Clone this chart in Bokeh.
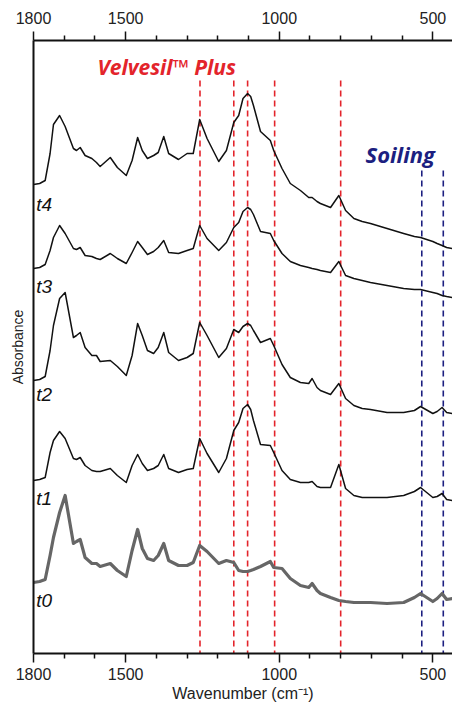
from bokeh.plotting import figure
from bokeh.models import Range1d, LinearAxis, FixedTicker
from bokeh.embed import file_html
from bokeh.resources import INLINE
from bokeh.core.properties import value

# ---------------- data ----------------
wavenumber = [1800, 1780, 1762, 1746, 1735, 1715, 1697, 1670, 1660, 1648,
              1632, 1610, 1595, 1583, 1550, 1527, 1498, 1479, 1461, 1446,
              1429, 1409, 1394, 1376, 1360, 1328, 1300, 1280, 1259, 1235,
              1197, 1172, 1148, 1132, 1118, 1103, 1093, 1084, 1061, 1029, 1018, 991,
              964, 931, 904, 893, 877, 866, 833, 806, 784, 757,
              730, 703, 649, 595, 560, 540, 500, 486, 470, 455, 437]

t4 = [4.69, 4.70, 4.73, 5.00, 5.29, 5.38, 5.27, 5.05, 5.03, 5.06,
      4.98, 4.95, 4.91, 4.87, 4.96, 4.86, 4.78, 4.93, 5.16, 5.03,
      4.95, 4.98, 5.01, 5.17, 5.00, 4.94, 5.00, 5.00, 5.34, 5.15,
      4.92, 5.03, 5.31, 5.38, 5.55, 5.60, 5.57, 5.48, 5.22, 5.13, 5.03, 4.85,
      4.70, 4.63, 4.56, 4.56, 4.52, 4.50, 4.46, 4.58, 4.43, 4.35,
      4.32, 4.30, 4.25, 4.20, 4.17, 4.16, 4.12, 4.10, 4.08, 4.06, 4.05]

t3 = [3.85, 3.86, 3.89, 4.03, 4.16, 4.28, 4.20, 4.05, 4.04, 4.06,
      3.98, 3.97, 3.95, 3.94, 4.00, 3.95, 3.90, 4.01, 4.12, 4.06,
      3.99, 4.02, 4.06, 4.13, 4.01, 4.00, 4.03, 4.05, 4.28, 4.15,
      4.03, 4.11, 4.26, 4.31, 4.42, 4.46, 4.44, 4.39, 4.22, 4.20, 4.13, 4.00,
      3.92, 3.88, 3.86, 3.85, 3.84, 3.83, 3.81, 3.92, 3.78, 3.75,
      3.73, 3.71, 3.68, 3.65, 3.64, 3.64, 3.61, 3.60, 3.58, 3.57, 3.56]

t2 = [2.73, 2.74, 2.77, 3.03, 3.28, 3.55, 3.61, 3.16, 3.18, 3.21,
      3.06, 2.98, 2.98, 2.92, 2.93, 2.87, 2.78, 2.98, 3.30, 3.18,
      3.03, 3.00, 3.06, 3.21, 3.01, 2.93, 2.96, 3.00, 3.31, 3.18,
      2.96, 3.05, 3.24, 3.21, 3.27, 3.30, 3.28, 3.23, 3.11, 3.15, 3.08, 2.89,
      2.76, 2.71, 2.70, 2.75, 2.66, 2.63, 2.59, 2.70, 2.55, 2.48,
      2.45, 2.44, 2.41, 2.41, 2.43, 2.47, 2.40, 2.42, 2.46, 2.41, 2.40]

t1 = [1.73, 1.74, 1.76, 2.01, 2.13, 2.22, 2.15, 1.95, 1.94, 1.96,
      1.88, 1.83, 1.82, 1.82, 1.85, 1.78, 1.71, 1.88, 1.99, 1.90,
      1.83, 1.85, 1.88, 1.99, 1.85, 1.81, 1.84, 1.85, 2.15, 2.00,
      1.81, 1.95, 2.23, 2.31, 2.45, 2.49, 2.44, 2.33, 2.09, 2.08, 2.01, 1.83,
      1.74, 1.71, 1.71, 1.72, 1.67, 1.66, 1.66, 1.89, 1.65, 1.58,
      1.56, 1.56, 1.56, 1.58, 1.62, 1.66, 1.56, 1.57, 1.60, 1.54, 1.53]

t0 = [0.71, 0.72, 0.74, 0.98, 1.16, 1.41, 1.58, 1.10, 1.12, 1.14,
      0.96, 0.90, 0.90, 0.87, 0.90, 0.83, 0.77, 1.03, 1.24, 1.05,
      0.95, 0.93, 0.98, 1.10, 0.93, 0.88, 0.88, 0.91, 1.08, 1.02,
      0.90, 0.93, 0.91, 0.83, 0.82, 0.82, 0.83, 0.84, 0.87, 0.92, 0.86, 0.85,
      0.75, 0.68, 0.66, 0.70, 0.63, 0.60, 0.56, 0.53, 0.52, 0.51,
      0.51, 0.51, 0.50, 0.51, 0.56, 0.60, 0.52, 0.55, 0.60, 0.54, 0.55]

series_names = ["t4", "t3", "t2", "t1", "t0"]
velvesil_peaks = [1258, 1148, 1103, 1015, 800]
soiling_peaks = [536, 466]
major_ticks = [1800, 1500, 1000, 500]
minor_ticks = [1700, 1600, 1400, 1300, 1200, 1100, 900, 800, 700, 600]

# ---------------- figure ----------------
p = figure(width=452, height=704,
           x_range=Range1d(1800, 436), y_range=Range1d(0, 6.13),
           output_backend="svg", toolbar_location=None,
           min_border_left=33, min_border_top=40, min_border_right=0,
           min_border_bottom=0)
p.outline_line_color = None
p.xgrid.visible = False
p.ygrid.visible = False
p.background_fill_color = "white"

AX_FONT = "Liberation Sans"

def style_x(ax):
    ax.ticker = FixedTicker(ticks=major_ticks, minor_ticks=minor_ticks)
    ax.axis_line_width = 2
    ax.axis_line_color = "#111111"
    ax.major_tick_out = 9
    ax.major_tick_in = 0
    ax.minor_tick_out = 5
    ax.minor_tick_in = 0
    ax.major_tick_line_width = 1.5
    ax.minor_tick_line_width = 1.5
    ax.major_tick_line_color = "#111111"
    ax.minor_tick_line_color = "#111111"
    ax.major_label_text_font = AX_FONT
    ax.major_label_text_font_size = "16px"
    ax.major_label_text_color = "#222222"
    ax.major_label_standoff = 5

style_x(p.xaxis[0])
p.xaxis.axis_label = "Wavenumber (cm\u207b\u00b9)"
p.xaxis.axis_label_text_font = AX_FONT
p.xaxis.axis_label_text_font_size = "16px"
p.xaxis.axis_label_text_font_style = "normal"
p.xaxis.axis_label_text_color = "#222222"
p.xaxis.axis_label_standoff = 2

top = LinearAxis()
style_x(top)
top.major_label_standoff = 8
p.add_layout(top, "above")

p.yaxis.ticker = FixedTicker(ticks=[])
p.yaxis.axis_line_width = 2
p.yaxis.axis_line_color = "#111111"
p.yaxis.major_tick_out = 0
p.yaxis.minor_tick_out = 0
p.yaxis.major_label_standoff = 0
p.yaxis.axis_label = "Absorbance"
p.yaxis.axis_label_text_font = AX_FONT
p.yaxis.axis_label_text_font_size = "14px"
p.yaxis.axis_label_text_font_style = "normal"
p.yaxis.axis_label_text_color = "#222222"
p.yaxis.axis_label_standoff = 8

# marker lines
n_r = len(velvesil_peaks)
p.segment(x0=velvesil_peaks, x1=velvesil_peaks, y0=[5.73] * n_r, y1=[0] * n_r,
          line_color="#e3242b", line_width=1.6, line_dash="6 4")
n_b = len(soiling_peaks)
p.segment(x0=soiling_peaks, x1=soiling_peaks, y0=[4.83] * n_b, y1=[0] * n_b,
          line_color="#1c1f80", line_width=1.6, line_dash="6 4")

# spectra
p.line(wavenumber, t0, line_color="#666666", line_width=3.2, line_join="round")
for s in (t1, t2, t3, t4):
    p.line(wavenumber, s, line_color="#111111", line_width=1.5, line_join="round")

# curve labels
p.text(x=[1791] * 5, y=[4.49, 3.67, 2.59, 1.55, 0.53], text=series_names,
       text_font=value(AX_FONT), text_font_style="italic", text_font_size="19px",
       text_color="#111111", text_align="left", text_baseline="middle")

p.text(x=[1592], y=[5.87], text=["Velvesil\u2122 Plus"],
       text_font=value("Open Sans"), text_font_style="bold italic",
       text_font_size="21px", text_color="#e3242b",
       text_align="left", text_baseline="middle")
p.text(x=[719], y=[5.00], text=["Soiling"],
       text_font=value("Open Sans"), text_font_style="bold italic",
       text_font_size="22px", text_color="#1c1f80",
       text_align="left", text_baseline="middle")

open("out.html", "w").write(file_html(p, INLINE))
